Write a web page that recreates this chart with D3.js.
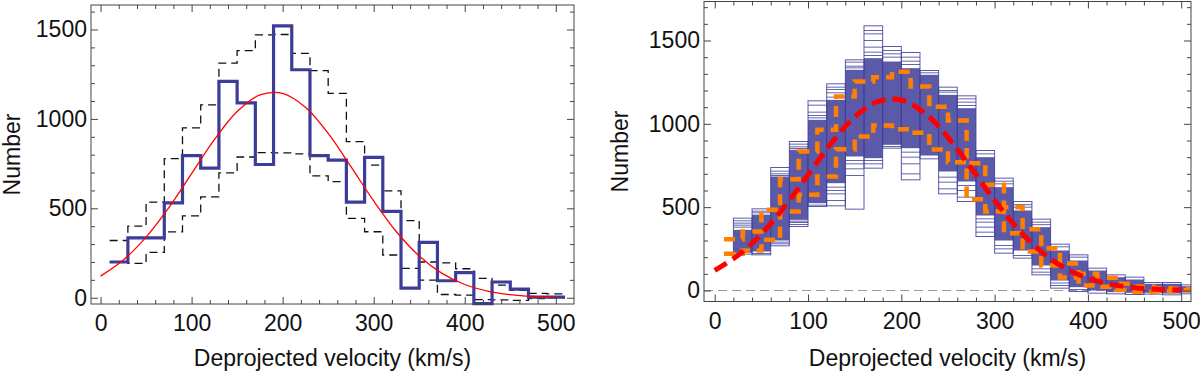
<!DOCTYPE html>
<html>
<head>
<meta charset="utf-8">
<title>Deprojected velocity histograms</title>
<script src="https://d3js.org/d3.v7.min.js"></script>
<style>
  body { margin: 0; background: #fff; }
  svg text { font-family: "Liberation Sans", Arial, sans-serif; fill: #111; }
</style>
</head>
<body>
<div id="chart"></div>
<script>
// ---- left panel: observed histogram (bins 10..510, width 20) ----
var leftEdges = [10, 30, 50, 70, 90, 110, 130, 150, 170, 190, 210, 230, 250, 270, 290,
                 310, 330, 350, 370, 390, 410, 430, 450, 470, 490, 510];
var observed = [200, 335, 335, 530, 795, 725, 1210, 1090, 745, 1520, 1275, 795, 770, 535, 785,
                483, 54, 310, 95, 140, -33, 88, 48, 3, 3];
var upperLeft = [320, 400, 535, 778, 950, 1078, 1312, 1382, 1470, 1472, 1367, 1270, 1143, 873, 742,
                 598, 431, 200, 195, 162, 108, 70, 42, 24, 22];
var lowerLeft = [198, 192, 254, 368, 458, 564, 698, 787, 812, 810, 804, 681, 649, 444, 369,
                 239, 164, 99, 18, 15, -10, -12, -15, -5, 0];

// fitted curve, read every 25 km/s
var fitV = [0, 25, 50, 75, 100, 125, 150, 175, 200, 225, 250, 275, 300, 325, 350, 375, 400, 425, 450, 475, 500];
var fitN = [121, 211, 339, 504, 694, 884, 1041, 1134, 1143, 1065, 919, 733, 541, 369, 233, 136, 74, 37, 17, 7, 3];

// ---- right panel: envelopes (bins 10..510) and simulated histograms (bins 20..520) ----
var upperRight = [308, 354, 484, 668, 834, 964, 1164, 1254, 1280, 1312, 1224, 1102, 1020, 764, 634,
                  500, 368, 254, 162, 100, 76, 40, 24, 14, 10];
var lowerRight = [220, 240, 304, 474, 574, 684, 848, 924, 990, 968, 946, 846, 770, 548, 474,
                  344, 234, 150, 78, 30, 22, 4, -8, -4, 2];

var simEdges = [20, 40, 60, 80, 100, 120, 140, 160, 180, 200, 220, 240, 260, 280, 300,
                320, 340, 360, 380, 400, 420, 440, 460, 480, 500, 520];
var simTop = [434, 490, 738, 894, 1138, 1240, 1384, 1588, 1464, 1428, 1320, 1220, 1168, 840, 674,
              534, 428, 278, 214, 134, 94, 80, 48, 48, 34];
var simBottom = [218, 214, 268, 384, 504, 508, 488, 734, 854, 664, 790, 580, 534, 324, 224,
                 194, 94, 14, -6, -16, -20, -24, -22, -26, -20];
var denseTop = [364, 455, 684, 844, 1024, 1144, 1324, 1394, 1374, 1334, 1294, 1174, 1094, 800, 620,
                480, 380, 240, 180, 120, 80, 66, 40, 40, 26];
var denseBottom = [226, 234, 300, 424, 524, 644, 804, 794, 874, 854, 810, 714, 654, 450, 300,
                   240, 150, 60, 20, 0, -10, -14, -14, -18, -12];
var simLines = [
  [418, 404, 392, 380],
  [476, 466, 222],
  [716, 700, 690, 280, 290],
  [878, 862, 852, 396, 408, 416],
  [1112, 1070, 1050, 1036, 512],
  [1220, 1206, 1186, 1160, 540, 580, 600, 620],
  [1370, 1346, 1336, 690, 730, 760, 780],
  [1560, 1540, 1500, 1460, 1430, 1410, 760, 780],
  [1440, 1420, 1400, 864],
  [1400, 1376, 1356, 700, 760, 800, 830],
  [1306],
  [1200, 1190, 610, 650, 680],
  [1150, 1130, 1110, 560, 600, 630],
  [820, 350, 380, 410, 430],
  [656, 640, 250, 270],
  [515, 500, 210],
  [410, 395, 110, 130],
  [262, 30, 45],
  [200, 6],
  [], [], [], [], [], []
];

var xTicks = [0, 100, 200, 300, 400, 500];
var yTicks = [0, 500, 1000, 1500];
var xMinor = [0, 20, 40, 60, 80, 100, 120, 140, 160, 180, 200, 220, 240, 260, 280, 300,
              320, 340, 360, 380, 400, 420, 440, 460, 480, 500];
var yMinor = [0, 100, 200, 300, 400, 500, 600, 700, 800, 900, 1000, 1100, 1200, 1300, 1400, 1500, 1600, 1700];

var BLUE = "#3d3d99";
var FONT = "23px";

function stepPoints(edges, vals) {
    return edges.map(function(e, i) { return [e, vals[Math.min(i, vals.length - 1)]]; });
}

function drawFrame(svg, x, y, box, yLabelX) {
    var g = svg.append("g");
    var axes = [
        { a: d3.axisBottom(x), t: "translate(0," + box.b + ")", major: xTicks, minor: xMinor, lab: true, pad: 11 },
        { a: d3.axisTop(x), t: "translate(0," + box.t + ")", major: xTicks, minor: xMinor, lab: false, pad: 4 },
        { a: d3.axisLeft(y), t: "translate(" + box.l + ",0)", major: yTicks, minor: yMinor, lab: true, pad: 4 },
        { a: d3.axisRight(y), t: "translate(" + box.r + ",0)", major: yTicks, minor: yMinor, lab: false, pad: 4 }
    ];
    axes.forEach(function(d) {
        var minor = d.minor.filter(function(v) { return d.major.indexOf(v) < 0; });
        var ax = g.append("g").attr("transform", d.t)
            .call(d.a.tickValues(d.major).tickSizeInner(-7).tickSizeOuter(0).tickPadding(d.pad)
                .tickFormat(d.lab ? d3.format("d") : ""));
        ax.select(".domain").remove();
        ax.selectAll("line").attr("stroke", "#444");
        ax.selectAll("text").style("font-size", FONT).attr("fill", "#111");
        var mx = g.append("g").attr("transform", d.t)
            .call(d.a.tickValues(minor).tickSizeInner(-4).tickFormat(""));
        mx.select(".domain").remove();
        mx.selectAll("line").attr("stroke", "#444");
    });
    g.append("rect")
        .attr("x", box.l).attr("y", box.t)
        .attr("width", box.r - box.l).attr("height", box.b - box.t)
        .attr("fill", "none").attr("stroke", "#444").attr("stroke-width", 1);

    svg.append("text")
        .attr("transform", "translate(" + yLabelX + "," + ((box.t + box.b) / 2) + ") rotate(-90)")
        .attr("text-anchor", "middle")
        .style("font-size", FONT)
        .text("Number");
    svg.append("text")
        .attr("x", (box.l + box.r) / 2).attr("y", 366)
        .attr("text-anchor", "middle")
        .style("font-size", FONT)
        .text("Deprojected velocity (km/s)");
}

function drawLeft(svg) {
    var box = { l: 91, r: 574, t: 5, b: 304 };
    var x = d3.scaleLinear().domain([-10.5, 520]).range([box.l, box.r]);
    var y = d3.scaleLinear().domain([-35, 1637]).range([box.b, box.t]);

    var step = d3.line().x(function(d) { return x(d[0]); }).y(function(d) { return y(d[1]); })
        .curve(d3.curveStepAfter);

    [upperLeft, lowerLeft].forEach(function(vals) {
        svg.append("path").attr("d", step(stepPoints(leftEdges, vals)))
            .attr("fill", "none").attr("stroke", "#111").attr("stroke-width", 1.3)
            .attr("stroke-dasharray", "8,5");
    });
    svg.append("path").attr("d", step(stepPoints(leftEdges, observed)))
        .attr("fill", "none").attr("stroke", BLUE).attr("stroke-width", 3.2)
        .attr("stroke-linejoin", "miter");

    var fit = d3.line().x(function(d, i) { return x(fitV[i]); }).y(function(d) { return y(d); })
        .curve(d3.curveCatmullRom);
    svg.append("path").attr("d", fit(fitN))
        .attr("fill", "none").attr("stroke", "#ff0000").attr("stroke-width", 1.3);

    drawFrame(svg, x, y, box, 20);
}

function drawRight(svg) {
    var box = { l: 704, r: 1191, t: 1.5, b: 301.5 };
    var x = d3.scaleLinear().domain([-11.5, 510.5]).range([box.l, box.r]);
    var y = d3.scaleLinear().domain([-66, 1734]).range([box.b, box.t]);

    svg.append("clipPath").attr("id", "clipR").append("rect")
        .attr("x", box.l).attr("y", box.t).attr("width", box.r - box.l).attr("height", box.b - box.t);
    var g = svg.append("g").attr("clip-path", "url(#clipR)");

    g.append("line")
        .attr("x1", box.l).attr("x2", box.r).attr("y1", y(0)).attr("y2", y(0))
        .attr("stroke", "#999").attr("stroke-width", 1).attr("stroke-dasharray", "9,5");

    var cols = simTop.map(function(t, i) {
        return { x0: simEdges[i], x1: simEdges[i + 1], top: t, bot: simBottom[i],
                 dt: denseTop[i], db: denseBottom[i], lines: simLines[i] };
    });
    var col = g.selectAll(".sim").data(cols).enter().append("g").attr("class", "sim");
    col.append("rect")
        .attr("x", function(d) { return x(d.x0); })
        .attr("width", function(d) { return x(d.x1) - x(d.x0); })
        .attr("y", function(d) { return y(d.dt); })
        .attr("height", function(d) { return y(d.db) - y(d.dt); })
        .attr("fill", BLUE).attr("fill-opacity", 0.85);
    col.append("rect")
        .attr("x", function(d) { return x(d.x0); })
        .attr("width", function(d) { return x(d.x1) - x(d.x0); })
        .attr("y", function(d) { return y(d.top); })
        .attr("height", function(d) { return y(d.bot) - y(d.top); })
        .attr("fill", "none").attr("stroke", BLUE).attr("stroke-opacity", 0.85).attr("stroke-width", 1);
    col.selectAll("line").data(function(d) {
        return d.lines.map(function(v) { return { x0: d.x0, x1: d.x1, v: v }; });
    }).enter().append("line")
        .attr("x1", function(d) { return x(d.x0); })
        .attr("x2", function(d) { return x(d.x1); })
        .attr("y1", function(d) { return y(d.v); })
        .attr("y2", function(d) { return y(d.v); })
        .attr("stroke", BLUE).attr("stroke-opacity", 0.8).attr("stroke-width", 1);

    var step = d3.line().x(function(d) { return x(d[0]); }).y(function(d) { return y(d[1]); })
        .curve(d3.curveStepAfter);
    [upperRight, lowerRight].forEach(function(vals) {
        g.append("path").attr("d", step(stepPoints(leftEdges, vals)))
            .attr("fill", "none").attr("stroke", "#ff8000").attr("stroke-width", 4.5)
            .attr("stroke-dasharray", "11,7");
    });

    var fit = d3.line().x(function(d, i) { return x(fitV[i]); }).y(function(d) { return y(d); })
        .curve(d3.curveCatmullRom);
    g.append("path").attr("d", fit(fitN))
        .attr("fill", "none").attr("stroke", "#ff0000").attr("stroke-width", 5)
        .attr("stroke-dasharray", "14,7");

    drawFrame(svg, x, y, box, 628);
}

function createCanvas() {
    return d3.select("#chart").append("svg")
        .attr("width", 1200).attr("height", 371);
}

var canvas = createCanvas();
drawLeft(canvas);
drawRight(canvas);
</script>
</body>
</html>
